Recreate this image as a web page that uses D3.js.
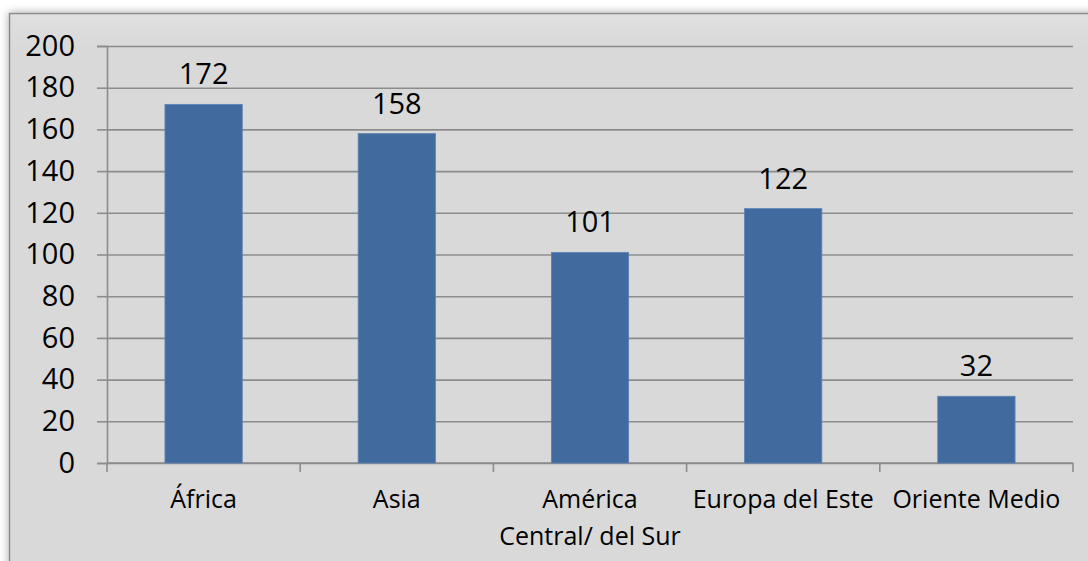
<!DOCTYPE html>
<html>
<head>
<meta charset="utf-8">
<script src="https://cdn.jsdelivr.net/npm/d3@7"></script>
<style>
  html, body { margin: 0; padding: 0; background: #fff; }
  svg { display: block; }
</style>
</head>
<body>
<div id="chart"></div>
<script>
// chart values
const categories = ['África', 'Asia', 'América\nCentral/ del Sur', 'Europa del Este', 'Oriente Medio'];
const values = [172, 158, 101, 122, 32];
const yTicks = [0, 20, 40, 60, 80, 100, 120, 140, 160, 180, 200];

const W = 1088, H = 561;
const margin = { top: 46, right: 15, bottom: 98, left: 107 };
const font = '"Open Sans", "Noto Sans", sans-serif';

const svg = d3.select('#chart').append('svg')
  .attr('width', W)
  .attr('height', H);

// soft shadow + chart frame
const defs = svg.append('defs');
const shadow = defs.append('filter').attr('id', 'shadow')
  .attr('x', '-5%').attr('y', '-5%').attr('width', '110%').attr('height', '110%');
shadow.append('feGaussianBlur').attr('in', 'SourceAlpha').attr('stdDeviation', 5);
shadow.append('feOffset').attr('dx', 0).attr('dy', 0).attr('result', 'blur');
shadow.append('feComponentTransfer').append('feFuncA').attr('type', 'linear').attr('slope', 0.35);
const merge = shadow.append('feMerge');
merge.append('feMergeNode');
merge.append('feMergeNode').attr('in', 'SourceGraphic');

const bg = defs.append('linearGradient').attr('id', 'bgGrad')
  .attr('x1', '0%').attr('x2', '0%').attr('y1', '0%').attr('y2', '100%');
bg.append('stop').attr('offset', '0%').attr('stop-color', '#e0e0e0');
bg.append('stop').attr('offset', '6%').attr('stop-color', '#d9d9d9');
bg.append('stop').attr('offset', '100%').attr('stop-color', '#d9d9d9');

svg.append('rect')
  .attr('x', 9.5).attr('y', 13.5)
  .attr('width', W + 20).attr('height', H + 20)
  .attr('fill', 'url(#bgGrad)')
  .attr('stroke', '#8a8a8a')
  .attr('stroke-width', 1.5)
  .attr('filter', 'url(#shadow)');

const width = W - margin.left - margin.right;
const height = H - margin.top - margin.bottom;

const g = svg.append('g')
  .attr('transform', `translate(${margin.left},${margin.top})`);

const x = d3.scaleBand()
  .domain(categories)
  .range([0, width])
  .paddingInner(0.6)
  .paddingOuter(0.3);

const y = d3.scaleLinear()
  .domain([0, 200])
  .range([height, 0]);

// gridlines + y axis
g.append('g')
  .call(d3.axisLeft(y).tickValues(yTicks).tickSize(-width).tickFormat(''))
  .call(s => s.select('.domain').remove())
  .call(s => s.selectAll('.tick line')
    .attr('stroke', '#8c8c8c')
    .attr('stroke-width', 1.6));

g.append('g')
  .call(d3.axisLeft(y).tickValues(yTicks).tickSize(10).tickPadding(22))
  .call(s => s.select('.domain').attr('stroke', '#8c8c8c').attr('stroke-width', 1.6))
  .call(s => s.selectAll('.tick line').attr('stroke', '#8c8c8c').attr('stroke-width', 1.6))
  .call(s => s.selectAll('.tick text')
    .attr('fill', '#000')
    .style('font-family', font)
    .style('font-size', '29px'));

// x axis with ticks at category boundaries
const bounds = d3.range(categories.length + 1);
const xb = d3.scaleLinear().domain([0, categories.length]).range([0, width]);
const xAxis = g.append('g').attr('transform', `translate(0,${height})`);
xAxis.append('line')
  .attr('x1', 0).attr('x2', width)
  .attr('stroke', '#8c8c8c').attr('stroke-width', 1.6);
xAxis.selectAll('line.tk').data(bounds).join('line')
  .attr('class', 'tk')
  .attr('x1', d => xb(d)).attr('x2', d => xb(d))
  .attr('y1', 0).attr('y2', 9)
  .attr('stroke', '#8c8c8c').attr('stroke-width', 1.6);

xAxis.selectAll('text.cat').data(categories).join('text')
  .attr('class', 'cat')
  .attr('text-anchor', 'middle')
  .attr('fill', '#000')
  .style('font-family', font)
  .style('font-size', '25px')
  .each(function(d) {
    const t = d3.select(this);
    d.split('\n').forEach((line, i) => {
      t.append('tspan')
        .attr('x', x(d) + x.bandwidth() / 2)
        .attr('y', 45 + i * 37)
        .text(line);
    });
  });

// bars
g.selectAll('rect.bar').data(categories).join('rect')
  .attr('class', 'bar')
  .attr('x', d => x(d))
  .attr('y', (d, i) => y(values[i]))
  .attr('width', x.bandwidth())
  .attr('height', (d, i) => height - y(values[i]))
  .attr('fill', '#416a9e')
  .attr('stroke', '#5b83b5')
  .attr('stroke-width', 0.8);

// value labels
g.selectAll('text.val').data(categories).join('text')
  .attr('class', 'val')
  .attr('x', d => x(d) + x.bandwidth() / 2)
  .attr('y', (d, i) => y(values[i]) - 20)
  .attr('text-anchor', 'middle')
  .attr('fill', '#000')
  .style('font-family', font)
  .style('font-size', '29px')
  .text((d, i) => values[i]);
</script>
</body>
</html>
